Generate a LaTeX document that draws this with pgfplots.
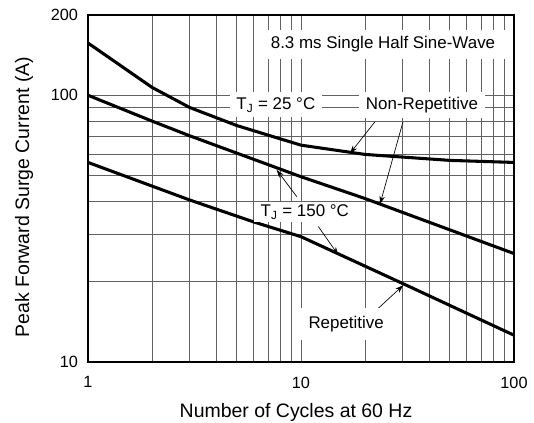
\documentclass[border=0pt]{standalone}
\usepackage{fontspec}
\setmainfont{Liberation Sans}
\usepackage{pgfplots}
\pgfplotsset{compat=1.18}
\usetikzlibrary{arrows.meta}
\begin{document}
\begin{tikzpicture}
\def\fs{\fontsize{12.2}{14}\selectfont}
\def\fl{\fontsize{12.7}{15}\selectfont}
\def\fa{\fontsize{14.6}{17}\selectfont}
\begin{axis}[
  name=ax, at={(0,0)}, anchor=south west,
  scale only axis, width=319.5pt, height=260.25pt,
  xmode=log, ymode=log,
  xmin=1, xmax=100, ymin=10, ymax=200,
  xtick={1,10,100}, xticklabels={1,10,100},
  ytick={10,100,200}, yticklabels={10,100,200},
  minor xtick={2,3,4,5,6,7,8,9,20,30,40,50,60,70,80,90},
  minor ytick={20,30,40,50,60,70,80,90},
  grid=both,
  major grid style={draw=black!62, line width=0.7pt},
  minor grid style={draw=black!62, line width=0.7pt},
  axis line style={line width=1.5pt},
  major tick length=0pt, minor tick length=0pt,
  tick label style={font=\fs},
  xticklabel style={yshift=-7.5pt},
  yticklabel style={xshift=-4pt},
  /pgf/number format/assume math mode=true,
]
% T_J = 25 C, non-repetitive
\addplot[black, line width=2.3pt, line join=round] coordinates {
 (1,157) (2,107) (3,90) (5,77) (10,65) (20,60) (50,57) (100,56)};
% T_J = 150 C, non-repetitive
\addplot[black, line width=2.3pt, line join=round] coordinates {
 (1,100) (2,80) (3,70.5) (10,49.5) (20,41) (100,25.5)};
% repetitive
\addplot[black, line width=2.3pt, line join=round] coordinates {
 (1,56) (3,40.5) (6,33.5) (10,29.5) (30,19.7) (100,12.6)};

\draw[-{Stealth[length=6pt,width=4pt]}, line width=0.5pt] (axis cs:22.2,79.4) -- (axis cs:17.0,60.6);
\draw[-{Stealth[length=6pt,width=4pt]}, line width=0.5pt] (axis cs:30.1,79.4) -- (axis cs:23.5,39.1);
\draw[-{Stealth[length=6pt,width=4pt]}, line width=0.5pt] (axis cs:9.55,41.7) -- (axis cs:7.69,52.5);
\draw[-{Stealth[length=6pt,width=4pt]}, line width=0.5pt] (axis cs:12.06,32.2) -- (axis cs:14.96,25.2);
\draw[-{Stealth[length=6pt,width=4pt]}, line width=0.5pt] (axis cs:23.07,15.9) -- (axis cs:30.2,19.4);

\node[fill=white, inner xsep=9pt, inner ysep=5pt, font=\fl] at (rel axis cs:0.6925,0.916) {8.3 ms Single Half Sine-Wave};
\node[fill=white, inner xsep=5pt, inner ysep=4pt, font=\fl] at (rel axis cs:0.441,0.741) {T\textsubscript{J} = 25 °C};
\node[fill=white, inner xsep=5pt, inner ysep=4pt, font=\fl] at (rel axis cs:0.784,0.741) {Non-Repetitive};
\node[fill=white, inner xsep=5pt, inner ysep=2pt, font=\fl] at (rel axis cs:0.509,0.432) {T\textsubscript{J} = 150 °C};
\node[fill=white, inner xsep=6pt, inner ysep=6pt, font=\fl] at (rel axis cs:0.606,0.1095) {Repetitive};
\end{axis}
\node[font=\fa] at ([xshift=-3.75pt,yshift=-37.5pt]ax.south) {Number of Cycles at 60 Hz};
\node[font=\fa, rotate=90] at ([xshift=-48pt,yshift=-6.4pt]ax.west) {Peak Forward Surge Current (A)};
\pgfresetboundingbox
\path ([shift={(-66pt,-45.75pt)}]ax.south west) rectangle ([shift={(15pt,11.25pt)}]ax.north east);
\end{tikzpicture}
\end{document}
